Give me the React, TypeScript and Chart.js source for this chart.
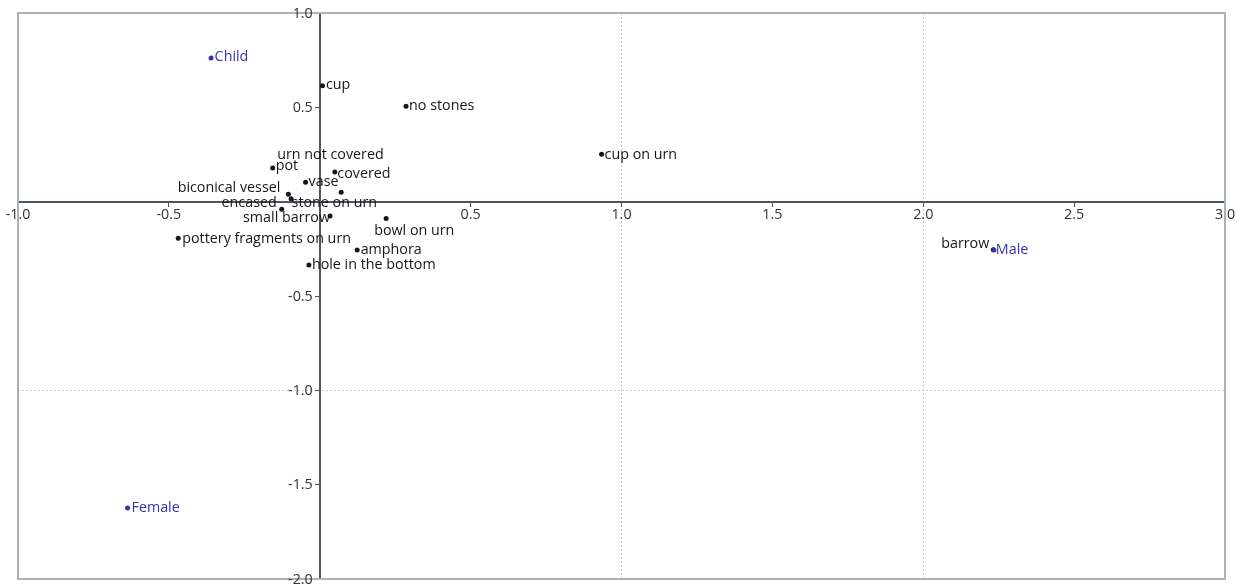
import React, { useEffect, useRef } from 'react';
import { Chart, registerables } from 'chart.js';

Chart.register(...registerables);

// ---- data ----
const xMin = -1.0;
const xMax = 3.0;
const yMin = -2.0;
const yMax = 1.0;
const tickStep = 0.5;

const itemLabels = [
  'cup',
  'no stones',
  'cup on urn',
  'urn not covered',
  'pot',
  'covered',
  'vase',
  'biconical vessel',
  'stone on urn',
  'encased',
  'small barrow',
  'bowl on urn',
  'pottery fragments on urn',
  'amphora',
  'hole in the bottom',
  'barrow',
];
const itemX = [0.009, 0.286, 0.934, 0.071, -0.156, 0.05, -0.047, -0.104, -0.095, -0.126, 0.034, 0.22, -0.469, 0.124, -0.036, 2.232];
const itemY = [0.615, 0.506, 0.251, 0.05, 0.179, 0.157, 0.103, 0.039, 0.016, -0.04, -0.076, -0.089, -0.194, -0.256, -0.336, -0.255];

const groupLabels = ['Child', 'Male', 'Female'];
const groupX = [-0.36, 2.234, -0.637];
const groupY = [0.762, -0.256, -1.624];

// ---- label placement (style): [dx, dy, align] relative to the point ----
const itemLabelPlacement: [number, number, CanvasTextAlign][] = [
  [3.5, -2, 'left'],
  [3, -2, 'left'],
  [3, -1, 'left'],
  [-64, -39, 'left'],
  [3, -3, 'left'],
  [2.5, 0, 'left'],
  [3, -2, 'left'],
  [-8, -8, 'right'],
  [0.5, 2.5, 'left'],
  [-5, -8, 'right'],
  [0, 0.5, 'right'],
  [-12, 11, 'left'],
  [4, -1, 'left'],
  [3.5, -1.5, 'left'],
  [3, -1.5, 'left'],
  [-4, -7, 'right'],
];
const groupLabelPlacement: [number, number, CanvasTextAlign][] = [
  [3.5, -2, 'left'],
  [2, -2, 'left'],
  [4, -1.5, 'left'],
];

const FONT = '"Open Sans", "Noto Sans", sans-serif';
const FONT_SIZE = 14.3;
const itemColor = '#161616';
const groupColor = '#3434b0';
const tickTextColor = '#333';
const axisColor = '#4d5565';

const fmt = (v: number) => (Math.abs(v) < 1e-9 ? '' : v.toFixed(1));

const framePlugin = {
  id: 'frame',
  beforeDatasetsDraw(chart: any) {
    const { ctx, chartArea } = chart;
    ctx.save();
    ctx.strokeStyle = '#a9b1b9';
    ctx.lineWidth = 2;
    ctx.strokeRect(chartArea.left, chartArea.top, chartArea.right - chartArea.left, chartArea.bottom - chartArea.top);
    ctx.restore();
  },
};

// y tick labels, placed left of the centred y axis using the library's scales
const yTickLabelPlugin = {
  id: 'yTickLabels',
  afterDatasetsDraw(chart: any) {
    const { ctx, scales } = chart;
    const xs = scales.x;
    const ys = scales.y;
    const axisX = xs.getPixelForValue(0);
    ctx.save();
    ctx.font = `${FONT_SIZE}px ${FONT}`;
    ctx.fillStyle = tickTextColor;
    ctx.textAlign = 'right';
    ctx.textBaseline = 'middle';
    ys.ticks.forEach((t: any) => {
      const s = fmt(t.value);
      if (!s) return;
      ctx.fillText(s, axisX - 7, ys.getPixelForValue(t.value) + 0.5);
    });
    ctx.restore();
  },
};

const labelPlugin = {
  id: 'pointLabels',
  afterDatasetsDraw(chart: any) {
    const { ctx } = chart;
    ctx.save();
    ctx.font = `${FONT_SIZE}px ${FONT}`;
    ctx.textBaseline = 'middle';
    chart.data.datasets.forEach((ds: any, di: number) => {
      const meta = chart.getDatasetMeta(di);
      const labels: string[] = ds.pointLabels;
      const place: [number, number, CanvasTextAlign][] = ds.labelPlacement;
      meta.data.forEach((el: any, i: number) => {
        const [dx, dy, align] = place[i];
        ctx.fillStyle = ds.labelColor;
        ctx.textAlign = align;
        ctx.fillText(labels[i], el.x + dx, el.y + dy + 1.5);
      });
    });
    ctx.restore();
  },
};

const gridColor = (c: any) => {
  const v = c.tick ? c.tick.value : 0;
  return Number.isInteger(v) && v !== 0 ? '#c3cbd3' : 'rgba(0,0,0,0)';
};

export default function App() {
  const ref = useRef<HTMLCanvasElement | null>(null);

  useEffect(() => {
    if (!ref.current) return;
    const chart = new Chart(ref.current, {
      type: 'scatter',
      data: {
        datasets: [
          {
            label: 'groups',
            data: groupX.map((x, i) => ({ x, y: groupY[i] })),
            pointRadius: 2.5,
            pointHoverRadius: 2.5,
            pointBackgroundColor: groupColor,
            pointBorderWidth: 0,
            pointLabels: groupLabels,
            labelPlacement: groupLabelPlacement,
            labelColor: groupColor,
          } as any,
          {
            label: 'items',
            data: itemX.map((x, i) => ({ x, y: itemY[i] })),
            pointRadius: 2.5,
            pointHoverRadius: 2.5,
            pointBackgroundColor: itemColor,
            pointBorderWidth: 0,
            pointLabels: itemLabels,
            labelPlacement: itemLabelPlacement,
            labelColor: itemColor,
          } as any,
        ],
      },
      options: {
        animation: false,
        responsive: false,
        devicePixelRatio: 1,
        layout: { padding: { left: 18, top: 13, right: 19, bottom: 8 } },
        plugins: { legend: { display: false }, tooltip: { enabled: false } },
        scales: {
          x: {
            type: 'linear',
            min: xMin,
            max: xMax,
            position: { y: 0 } as any,
            afterFit: (s: any) => {
              s.height = 0;
            },
            ticks: {
              stepSize: tickStep,
              callback: (v: any) => fmt(Number(v)),
              color: tickTextColor,
              font: { family: FONT, size: FONT_SIZE },
              padding: 1,
              maxRotation: 0,
              autoSkip: false,
            },
            grid: {
              color: gridColor,
              lineWidth: 1,
              tickColor: axisColor,
              tickLength: 4,
              drawTicks: true,
            },
            border: { display: true, color: axisColor, width: 2, dash: [2, 2] },
          },
          y: {
            type: 'linear',
            min: yMin,
            max: yMax,
            position: { x: 0 } as any,
            afterFit: (s: any) => {
              s.width = 0;
            },
            ticks: {
              stepSize: tickStep,
              display: false,
              autoSkip: false,
            },
            grid: {
              color: gridColor,
              lineWidth: 1,
              tickColor: axisColor,
              tickLength: 4,
              drawTicks: true,
            },
            border: { display: true, color: axisColor, width: 2, dash: [2, 2] },
          },
        },
      },
      plugins: [framePlugin, yTickLabelPlugin, labelPlugin],
    });
    return () => chart.destroy();
  }, []);

  return (
    <div style={{ position: 'absolute', left: 0, top: 0, width: 1244, height: 587, background: '#fff' }}>
      <canvas ref={ref} width={1244} height={587} style={{ display: 'block' }} />
    </div>
  );
}
